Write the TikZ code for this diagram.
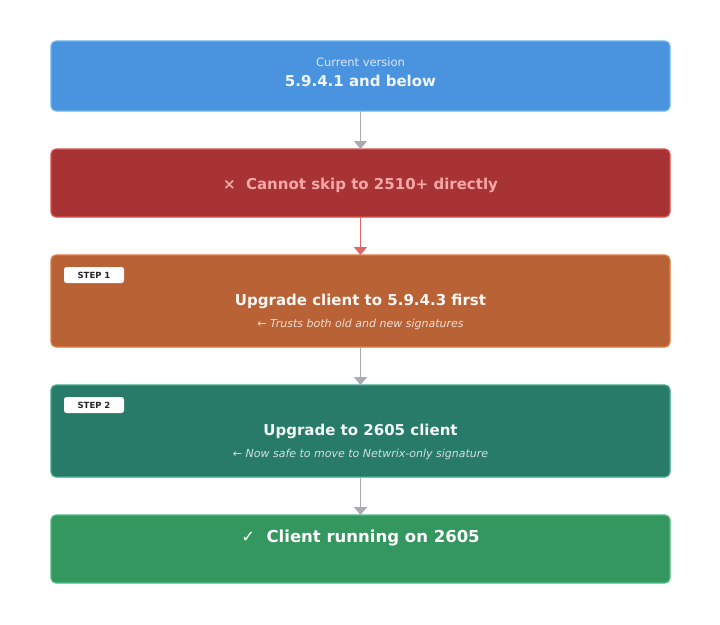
\documentclass[tikz,border=0pt]{standalone}
\usepackage{fontspec}
\setmainfont{DejaVu Sans}
\usetikzlibrary{arrows.meta}
\definecolor{blueFill}{HTML}{4A93DE}
\definecolor{blueLine}{HTML}{6BB8F0}
\definecolor{redFill}{HTML}{A83335}
\definecolor{redLine}{HTML}{D9534F}
\definecolor{redText}{HTML}{F5A8A8}
\definecolor{orangeFill}{HTML}{B86235}
\definecolor{orangeLine}{HTML}{E07B45}
\definecolor{tealFill}{HTML}{277B68}
\definecolor{tealLine}{HTML}{3DAA88}
\definecolor{greenFill}{HTML}{33975F}
\definecolor{greenLine}{HTML}{4CC07C}
\definecolor{arrowGray}{HTML}{AAAAB0}
\definecolor{arrowRed}{HTML}{E06666}

\begin{document}
\begin{tikzpicture}[x=1pt,y=-1pt]
    \tikzstyle{box}=[rounded corners=5pt,line width=1.2pt]
    \tikzstyle{flow}=[line width=1.5pt,-{Triangle[width=13pt,length=8pt]},draw=arrowGray]
    \tikzstyle{badge}=[fill=white,rounded corners=2.5pt,inner sep=0pt,minimum width=60pt,minimum height=16pt,
      font=\fontsize{8.5}{10}\selectfont\bfseries,text=black!85]
    \tikzstyle{title}=[font=\fontsize{15}{17}\selectfont\bfseries,text=white]
    \tikzstyle{note}=[font=\fontsize{11}{13}\selectfont\itshape]

    \fill[white] (0,0) rectangle (720,624);

    % boxes
    \draw[box,fill=blueFill,draw=blueLine] (51,41) rectangle (670,111);
    \draw[box,fill=redFill,draw=redLine] (51,149) rectangle (670,217);
    \draw[box,fill=orangeFill,draw=orangeLine] (51,255) rectangle (670,347);
    \draw[box,fill=tealFill,draw=tealLine] (51,385) rectangle (670,477);
    \draw[box,fill=greenFill,draw=greenLine] (51,515) rectangle (670,583);

    \coordinate (b1) at (360.5,111);
    \coordinate (t2) at (360.5,149);
    \coordinate (b2) at (360.5,217);
    \coordinate (t3) at (360.5,255);
    \coordinate (b3) at (360.5,347);
    \coordinate (t4) at (360.5,385);
    \coordinate (b4) at (360.5,477);
    \coordinate (t5) at (360.5,515);

    % texts
    \node[font=\fontsize{11.5}{13}\selectfont,text=white!80!blueFill] (cur) at (360.5,62) {Current version};
    \node[title,text=white!92!blueFill] (ver) at (360.5,81) {5.9.4.1 and below};
    \node[title,text=redText] (skip) at (360.5,185) {×\ \ Cannot skip to 2510+ directly};
    \node[badge] (s1) at (94,275) {STEP 1};
    \node[title,text=white!95!orangeFill] (up1) at (360.5,301) {Upgrade client to 5.9.4.3 first};
    \node[note,text=white!78!orangeFill] (n1) at (360.5,324) {← Trusts both old and new signatures};
    \node[badge] (s2) at (94,405) {STEP 2};
    \node[title,text=white!95!tealFill] (up2) at (360.5,431) {Upgrade to 2605 client};
    \node[note,text=white!78!tealFill] (n2) at (360.5,454) {← Now safe to move to Netwrix-only signature};
    \node[title,font=\fontsize{16.5}{19}\selectfont\bfseries] (done) at (360.5,538) {✓\ \ Client running on 2605};

    % arrows
    \draw[flow] (b1) -- (t2);
    \draw[flow,draw=arrowRed] (b2) -- (t3);
    \draw[flow] (b3) -- (t4);
    \draw[flow] (b4) -- (t5);
\end{tikzpicture}
\end{document}
